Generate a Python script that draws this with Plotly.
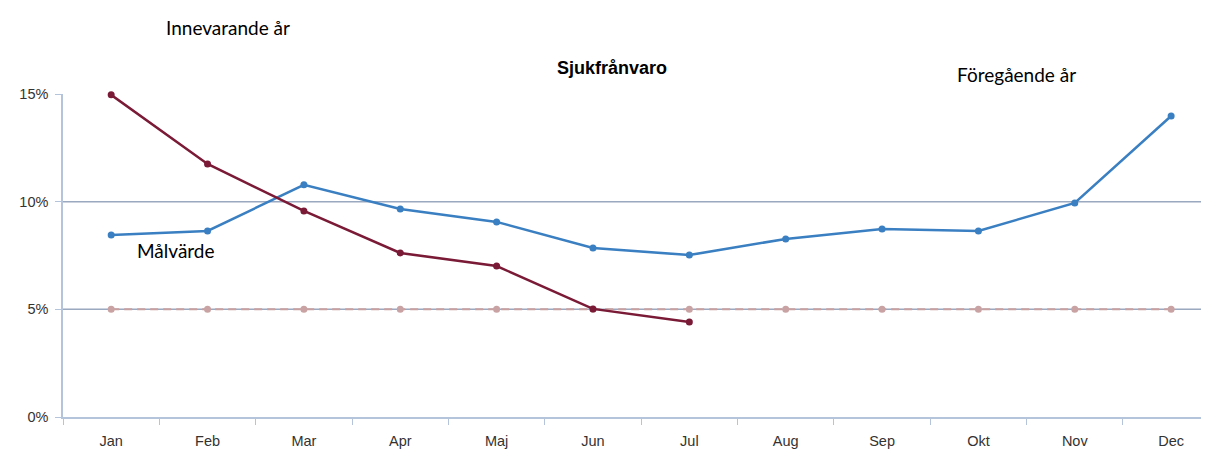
import plotly.graph_objects as go

months = ["Jan", "Feb", "Mar", "Apr", "Maj", "Jun", "Jul", "Aug", "Sep", "Okt", "Nov", "Dec"]
foregaende_ar = [8.45, 8.64, 10.78, 9.66, 9.06, 7.85, 7.52, 8.27, 8.73, 8.64, 9.94, 13.98]
innevarande_ar = [14.96, 11.75, 9.57, 7.62, 7.01, 5.02, 4.41]
malvarde = [5, 5, 5, 5, 5, 5, 5, 5, 5, 5, 5, 5]
y_ticks = [0, 5, 10, 15]
y_labels = ["0%", "5%", "10%", "15%"]
grid_vals = [5, 10]

fig = go.Figure()
fig.add_trace(go.Scatter(x=months, y=malvarde, mode="lines+markers", name="Målvärde",
                         line=dict(color="#c9a0a0", width=2, dash="8px,5px"),
                         marker=dict(size=7, color="#c9a3a3"), cliponaxis=False))
fig.add_trace(go.Scatter(x=months, y=foregaende_ar, mode="lines+markers", name="Föregående år",
                         line=dict(color="#3a7fc1", width=2.5),
                         marker=dict(size=7, color="#3a7fc1"), cliponaxis=False))
fig.add_trace(go.Scatter(x=months[:len(innevarande_ar)], y=innevarande_ar, mode="lines+markers",
                         name="Innevarande år",
                         line=dict(color="#7a1a36", width=2.5),
                         marker=dict(size=7, color="#7a1a36"), cliponaxis=False))

shapes = []
for g in grid_vals:
    shapes.append(dict(type="line", xref="paper", yref="y", x0=0, x1=1, y0=g, y1=g,
                       line=dict(color="#9aa8c0", width=1.5), layer="below"))

tick_font = dict(family="Liberation Sans, Arial", size=14.5, color="#333333")
ann_font = dict(family="Lato, Open Sans", size=19, color="#000")

fig.update_layout(
    width=1193, height=441,
    margin=dict(l=55, r=0, t=86, b=32),
    plot_bgcolor="white", paper_bgcolor="white",
    showlegend=False,
    shapes=shapes,
    xaxis=dict(type="category", range=[-0.5, 11.31], showgrid=False,
               showline=True, linecolor="#b4c4da", linewidth=1.5,
               ticks="outside", tickson="boundaries", ticklen=6, tickcolor="#b4c4da",
               ticklabelstandoff=10, tickfont=tick_font),
    yaxis=dict(range=[0, 15], tickvals=y_ticks, ticktext=y_labels, showgrid=False,
               zeroline=False, showline=True, linecolor="#b4c4da", linewidth=1.5,
               ticks="outside", ticklen=6, tickcolor="#b4c4da",
               ticklabelstandoff=4, tickfont=tick_font),
    annotations=[
        dict(text="<b>Sjukfrånvaro</b>", xref="paper", yref="paper", x=0.482, y=1.080,
             xanchor="center", yanchor="middle", showarrow=False,
             font=dict(family="Liberation Sans, Arial", size=18, color="#000")),
        dict(text="Innevarande år", xref="paper", yref="paper", x=0.145, y=1.207,
             xanchor="center", yanchor="middle", showarrow=False, font=ann_font),
        dict(text="Föregående år", xref="paper", yref="paper", x=0.838, y=1.059,
             xanchor="center", yanchor="middle", showarrow=False, font=ann_font),
        dict(text="Målvärde", xref="paper", yref="paper", x=0.0993, y=0.514,
             xanchor="center", yanchor="middle", showarrow=False, font=ann_font),
    ],
)

fig.write_html("out.html")
